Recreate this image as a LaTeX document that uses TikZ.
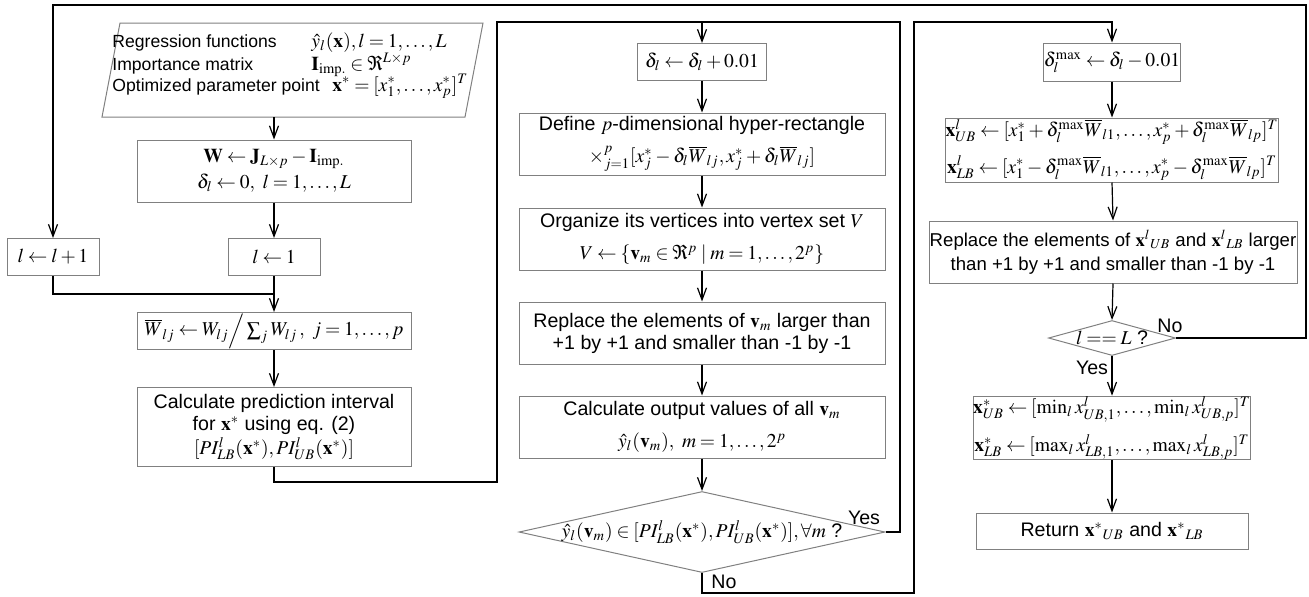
\documentclass[tikz,border=0pt]{standalone}
\usepackage{mathptmx}
\usepackage[no-math]{fontspec}
\setmainfont{Liberation Sans}
\usetikzlibrary{arrows.meta,shapes.geometric}
\AtBeginDocument{\medmuskip=2.5mu plus 1mu minus 2mu \thickmuskip=3.5mu plus 2mu}

\def\px{0.5pt}
\tikzset{
  box/.style 2 args={draw=black!50, line width=0.5pt, rectangle, inner sep=0pt,
    align=center, minimum width=#1*\px, minimum height=#2*\px},
  dec/.style 2 args={draw=black!50, line width=0.5pt, diamond, inner sep=0pt,
    minimum width=#1*\px, minimum height=#2*\px},
  arr/.style={-{Straight Barb[length=6pt,width=4.5pt]}, line width=0.6pt},
  con/.style={line width=0.6pt},
  lbl/.style={inner sep=0pt},
  intext/.style={lbl, anchor=base west, font=\fontsize{8.8}{11}\selectfont},
  inmath/.style={lbl, anchor=base west},
}

\begin{document}
\begin{tikzpicture}[x=\px, y=-\px, font=\fontsize{9.8}{11}\selectfont]
  \useasboundingbox (0,0) rectangle (1309,596);

  % input data
  \draw[draw=black!50, line width=0.5pt] (120,23) -- (483,23) -- (465,117) -- (102,117) -- cycle;
  \node[intext] (in1) at (112,47) {Regression functions};
  \node[intext] (in2) at (112,70) {Importance matrix};
  \node[intext] (in3) at (112,91) {Optimized parameter point};
  \node[inmath] (in1m) at (311,47) {$\hat{y}_l(\mathbf{x}), l=1,\ldots,L$};
  \node[inmath] (in2m) at (311,70) {$\mathbf{I}_{\mathrm{imp.}}\in\Re^{L\times p}$};
  \node[inmath] (in3m) at (332,91) {$\mathbf{x}^{*}=[x_1^{*},\ldots,x_p^{*}]^T$};
  \coordinate (inbot) at (274,117);

  % first column
  \node[box={274}{62}] (wbox) at (274,171) {$\mathbf{W}\leftarrow\mathbf{J}_{L\times p}-\mathbf{I}_{\mathrm{imp.}}$\\[2pt] $\delta_l\leftarrow 0,\ l=1,\ldots,L$};
  \node[box={92}{37}] (lone) at (274,257) {$l\leftarrow 1$};
  \node[box={92}{37}] (lplus) at (53,257) {$l\leftarrow l+1$};
  \node[box={274}{37}] (wbar) at (274,331) {$\overline{W}_{lj}\leftarrow W_{lj}\Big/\sum\nolimits_j W_{lj}\,,\ j=1,\ldots,p$};
  \node[box={274}{79}] (calc) at (274,427) {Calculate prediction interval\\ for $\mathbf{x}^*$ using eq. (2)\\[1pt] $[PI^l_{LB}(\mathbf{x}^*),PI^l_{UB}(\mathbf{x}^*)]$};

  % second column
  \node[box={129}{37}] (dinc) at (702,62) {$\delta_l\leftarrow\delta_l+0.01$};
  \node[box={366}{62}] (hyper) at (702,144) {Define $p$-dimensional hyper-rectangle\\[5pt] ${\times}_{j=1}^{p}[x_j^*-\delta_l\overline{W}_{lj},x_j^*+\delta_l\overline{W}_{lj}]$};
  \node[box={366}{62}] (vset) at (702,239) {Organize its vertices into vertex set $V$\\[5pt] $V\leftarrow\{\mathbf{v}_m\in\Re^p\mid m=1,\ldots,2^p\}$};
  \node[box={366}{62}] (clipv) at (702,333) {Replace the elements of $\mathbf{v}_m$ larger than\\ +1 by +1 and smaller than -1 by -1};
  \node[box={366}{62}] (outv) at (702,427) {Calculate output values of all $\mathbf{v}_m$\\[5pt] $\hat{y}_l(\mathbf{v}_m),\ m=1,\ldots,2^p$};
  \node[dec={366}{81}] (inpi) at (702,532) {};
  \node[lbl] (inpit) at (inpi) {$\hat{y}_l(\mathbf{v}_m)\in[PI^l_{LB}(\mathbf{x}^*),PI^l_{UB}(\mathbf{x}^*)],\forall m$ ?};

  % third column
  \node[box={122}{38}] (dmax) at (1112,62) {$\delta_l^{\max}\leftarrow\delta_l-0.01$};
  \node[box={274}{64}] (xlub) at (1112,150) {$\mathbf{x}^l_{UB}\leftarrow[x_1^*+\delta_l^{\max}\overline{W}_{l1},\ldots,x_p^*+\delta_l^{\max}\overline{W}_{lp}]^T$\\[5pt] $\mathbf{x}^l_{LB}\leftarrow[x_1^*-\delta_l^{\max}\overline{W}_{l1},\ldots,x_p^*-\delta_l^{\max}\overline{W}_{lp}]^T$};
  \node[box={368}{62}, font=\fontsize{9.3}{11}\selectfont] (clipx) at (1113,252) {Replace the elements of $\mathbf{x}^l{}_{UB}$ and $\mathbf{x}^l{}_{LB}$ larger\\[1pt] than +1 by +1 and smaller than -1 by -1};
  \node[dec={127}{35}] (lastl) at (1112,338) {};
  \node[lbl] (lastlt) at (lastl) {$l==L$ ?};
  \node[box={272}{62}] (xstar) at (1112,428) {$\mathbf{x}^*_{UB}\leftarrow[\min\nolimits_l x^l_{UB,1},\ldots,\min\nolimits_l x^l_{UB,p}]^T$\\[5pt] $\mathbf{x}^*_{LB}\leftarrow[\max\nolimits_l x^l_{LB,1},\ldots,\max\nolimits_l x^l_{LB,p}]^T$};
  \node[box={272}{36}] (ret) at (1112,531) {Return $\mathbf{x}^*{}_{UB}$ and $\mathbf{x}^*{}_{LB}$};

  \node[lbl] (yes1) at (864,518) {Yes};
  \node[lbl] (no1) at (724,582) {No};
  \node[lbl] (no2) at (1170,326) {No};
  \node[lbl] (yes2) at (1092,368) {Yes};

  % straight arrows
  \draw[arr] (inbot) -- (wbox.north);
  \foreach \src/\dst in {wbox/lone, lone/wbar, wbar/calc, dinc/hyper, hyper/vset, vset/clipv,
      clipv/outv, outv/inpi, dmax/xlub, xlub/clipx, clipx/lastl, lastl/xstar, xstar/ret}
    \draw[arr] (\src.south) -- (\dst.north);

  % loops
  \coordinate (join) at (274,294);
  \draw[con] (lplus.south) |- (join);
  \coordinate (lowl) at (497,482);
  \coordinate (topm) at (497,22);
  \draw[arr] (calc.south) |- (lowl) -- (topm) -| (dinc.north);
  \coordinate (yesr) at (900,22);
  \draw[con] (inpi.east) -| (yesr) -- (dinc.north |- yesr);
  \coordinate (nob) at (914,593);
  \coordinate (notop) at (914,22);
  \draw[arr] (inpi.south) |- (nob) -- (notop) -| (dmax.north);
  \coordinate (rtop) at (1306,5);
  \draw[arr] (lastl.east) -| (rtop) -| (lplus.north);
\end{tikzpicture}
\end{document}
